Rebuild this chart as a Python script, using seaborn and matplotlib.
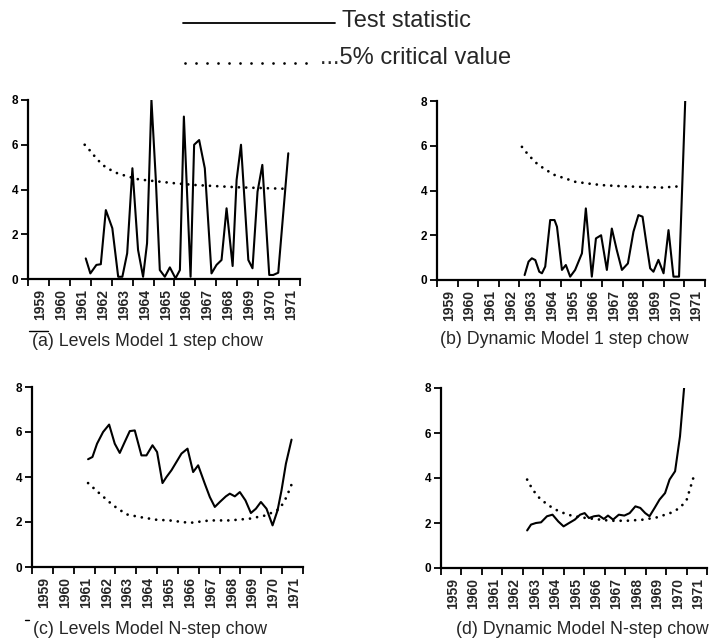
import matplotlib
matplotlib.use("Agg")
import matplotlib.pyplot as plt
from matplotlib.lines import Line2D
import seaborn as sns
import pandas as pd

# ---------------- data ----------------
# (a) Levels Model 1 step chow
a_stat_year = [1960.76, 1960.98, 1961.27, 1961.48, 1961.72, 1962.03, 1962.31, 1962.51, 1962.74, 1962.99,
               1963.26, 1963.50, 1963.69, 1963.90, 1964.11, 1964.30, 1964.54, 1964.78, 1965.05, 1965.26,
               1965.45, 1965.77, 1965.94, 1966.18, 1966.45, 1966.77, 1967.01, 1967.25, 1967.49, 1967.78,
               1967.97, 1968.18, 1968.53, 1968.73, 1968.97, 1969.20, 1969.53, 1969.72, 1969.96, 1970.44]
a_stat_val = [0.92, 0.25, 0.63, 0.66, 3.08, 2.27, 0.10, 0.10, 1.15, 4.95,
              1.30, 0.10, 1.60, 8.00, 4.43, 0.40, 0.10, 0.52, 0.03, 0.40,
              7.26, 0.10, 6.00, 6.21, 4.95, 0.25, 0.63, 0.85, 3.16, 0.58,
              4.43, 6.00, 0.85, 0.48, 3.90, 5.10, 0.18, 0.18, 0.28, 5.62]
a_crit_year = [1960.71, 1961.0, 1961.3, 1961.7, 1962.2, 1962.7, 1963.3, 1964.0, 1965.0, 1966.0,
               1967.0, 1968.0, 1969.0, 1970.0, 1970.44]
a_crit_val = [6.0, 5.7, 5.35, 5.0, 4.75, 4.6, 4.45, 4.38, 4.28, 4.2, 4.15, 4.1, 4.07, 4.04, 4.03]

# (b) Dynamic Model 1 step chow
b_stat_year = [1962.25, 1962.44, 1962.60, 1962.77, 1962.96, 1963.09, 1963.25, 1963.49, 1963.70, 1963.82,
               1964.06, 1964.25, 1964.46, 1964.70, 1965.03, 1965.22, 1965.51, 1965.71, 1965.96, 1966.24,
               1966.48, 1966.72, 1966.97, 1967.26, 1967.53, 1967.77, 1967.97, 1968.18, 1968.34, 1968.50,
               1968.74, 1968.99, 1969.23, 1969.47, 1969.74, 1970.04]
b_stat_val = [0.22, 0.82, 0.97, 0.89, 0.37, 0.30, 0.60, 2.68, 2.68, 2.38,
              0.45, 0.67, 0.15, 0.45, 1.19, 3.20, 0.15, 1.86, 2.00, 0.45,
              2.30, 1.34, 0.45, 0.74, 2.16, 2.90, 2.83, 1.49, 0.52, 0.37,
              0.90, 0.30, 2.23, 0.15, 0.15, 8.00]
b_crit_year = [1962.12, 1962.44, 1962.85, 1963.25, 1963.73, 1964.22, 1964.70, 1965.35, 1966.0, 1966.97,
               1967.94, 1968.9, 1969.8]
b_crit_val = [5.95, 5.58, 5.2, 4.94, 4.68, 4.54, 4.39, 4.31, 4.24, 4.19, 4.16, 4.13, 4.19]

# (c) Levels Model N-step chow
c_stat_year = [1960.69, 1960.90, 1961.12, 1961.41, 1961.70, 1961.97, 1962.21, 1962.45, 1962.69, 1962.93,
               1963.25, 1963.49, 1963.78, 1964.00, 1964.26, 1964.45, 1964.69, 1964.93, 1965.17, 1965.46,
               1965.73, 1965.97, 1966.29, 1966.53, 1966.77, 1967.01, 1967.30, 1967.49, 1967.73, 1967.97,
               1968.24, 1968.50, 1968.74, 1968.98, 1969.25, 1969.54, 1969.78, 1969.97, 1970.18, 1970.45]
c_stat_val = [4.79, 4.89, 5.48, 6.00, 6.33, 5.48, 5.07, 5.56, 6.04, 6.07,
              4.96, 4.96, 5.41, 5.11, 3.73, 4.00, 4.30, 4.67, 5.04, 5.26,
              4.22, 4.52, 3.70, 3.11, 2.67, 2.89, 3.14, 3.26, 3.14, 3.33,
              2.96, 2.40, 2.59, 2.89, 2.59, 1.85, 2.52, 3.41, 4.59, 5.66]
c_crit_year = [1960.69, 1961.25, 1961.89, 1962.53, 1963.17, 1963.97, 1964.60, 1965.57, 1966.53, 1967.49,
               1968.45, 1969.25, 1969.89, 1970.21, 1970.53]
c_crit_val = [3.73, 3.26, 2.74, 2.34, 2.22, 2.10, 2.07, 1.96, 2.07, 2.07, 2.15, 2.30, 2.59, 3.11, 3.85]

# (d) Dynamic Model N-step chow
d_stat_year = [1962.21, 1962.40, 1962.64, 1962.89, 1963.18, 1963.45, 1963.73, 1963.99, 1964.26, 1964.54,
               1964.80, 1965.02, 1965.23, 1965.48, 1965.72, 1965.96, 1966.16, 1966.41, 1966.69, 1966.96,
               1967.22, 1967.50, 1967.74, 1967.98, 1968.19, 1968.44, 1968.68, 1968.95, 1969.17, 1969.44,
               1969.68, 1969.88]
d_stat_val = [1.67, 1.93, 2.00, 2.03, 2.30, 2.37, 2.07, 1.85, 2.00, 2.15,
              2.37, 2.44, 2.22, 2.30, 2.33, 2.18, 2.33, 2.15, 2.37, 2.33,
              2.44, 2.74, 2.67, 2.44, 2.30, 2.67, 3.04, 3.33, 3.93, 4.30,
              5.85, 8.00]
d_crit_year = [1962.21, 1962.48, 1962.81, 1963.21, 1963.61, 1964.18, 1964.83, 1965.48, 1966.28, 1967.09,
               1967.90, 1968.55, 1969.20, 1969.68, 1970.01, 1970.33]
d_crit_val = [3.93, 3.48, 3.11, 2.81, 2.59, 2.37, 2.25, 2.18, 2.10, 2.10, 2.15, 2.25, 2.44, 2.67, 3.04, 4.00]

tick_years = list(range(1958, 1972))
label_years = list(range(1959, 1972))
tick_labels = [str(y) for y in label_years]
y_ticks = [0, 2, 4, 6, 8]

captions = ["(a) Levels Model 1 step chow", "(b) Dynamic Model 1 step chow",
            "(c) Levels Model N-step chow", "(d) Dynamic Model N-step chow"]
legend_labels = ["Test statistic", "...5% critical value"]

# ---------------- figure ----------------
sns.set_style("ticks")
plt.rcParams['font.family'] = ['Liberation Sans', 'DejaVu Sans']

W, H = 709, 643
fig = plt.figure(figsize=(W / 100, H / 100), dpi=100)

def rect(x0, x1, ytop, ybot):
    return [x0 / W, (H - ybot) / H, (x1 - x0) / W, (ybot - ytop) / H]

panels = [
    (rect(28, 300, 100, 279), a_stat_year, a_stat_val, a_crit_year, a_crit_val, (32, 341)),
    (rect(437, 705, 101, 280), b_stat_year, b_stat_val, b_crit_year, b_crit_val, (440, 340)),
    (rect(32, 303, 387, 567), c_stat_year, c_stat_val, c_crit_year, c_crit_val, (33, 630)),
    (rect(441, 707, 388, 568), d_stat_year, d_stat_val, d_crit_year, d_crit_val, (456, 630)),
]

for (r, sx, sv, cx, cv, cap_pos), cap in zip(panels, captions):
    ax = fig.add_axes(r)
    df_s = pd.DataFrame({"year": sx, "value": sv})
    df_c = pd.DataFrame({"year": cx, "value": cv})
    sns.lineplot(data=df_c, x="year", y="value", ax=ax, color="black", lw=2.0,
                 linestyle=(0, (0.01, 2.6)), dash_capstyle="round")
    sns.lineplot(data=df_s, x="year", y="value", ax=ax, color="black", lw=1.5)
    ax.set_xlim(1958, 1971)
    ax.set_ylim(0, 8)
    ax.set_xticks(tick_years)
    ax.set_xticklabels([""] * len(tick_years))
    ax.set_xticks([y - 0.42 for y in label_years], minor=True)
    ax.set_xticklabels(tick_labels, minor=True, rotation=90, fontsize=10, fontweight="bold")
    ax.tick_params(axis="x", which="minor", length=0, pad=7)
    ax.set_yticks(y_ticks)
    ax.set_yticklabels([str(v) for v in y_ticks], fontsize=8.5, fontweight="bold")
    ax.tick_params(axis="both", which="major", direction="out", length=5, width=1.3,
                   pad=2, colors="black")
    ax.set_xlabel("")
    ax.set_ylabel("")
    for s in ["top", "right"]:
        ax.spines[s].set_visible(False)
    for s in ["left", "bottom"]:
        ax.spines[s].set_linewidth(1.6)
        ax.spines[s].set_color("black")
    ax.patch.set_alpha(0)
    fig.text(cap_pos[0] / W, 1 - cap_pos[1] / H, cap, fontsize=12.8, ha="left", va="center")

# small scan marks near captions (a) and (c)
fig.add_artist(Line2D([29 / W, 48 / W], [1 - 331 / H, 1 - 331 / H], color="black", lw=1.0))
fig.add_artist(Line2D([25 / W, 29 / W], [1 - 620 / H, 1 - 620 / H], color="black", lw=1.0))

# ---------------- legend ----------------
fig.add_artist(Line2D([183 / W, 335 / W], [1 - 22.5 / H, 1 - 22.5 / H], color="black", lw=1.3))
fig.text(342 / W, 1 - 21 / H, legend_labels[0], fontsize=17, ha="left", va="center")
fig.add_artist(Line2D([185 / W, 316 / W], [1 - 63 / H, 1 - 63 / H], color="black", lw=2.0,
                      linestyle=(0, (0.01, 3.95)), dash_capstyle="round"))
fig.text(320 / W, 1 - 58 / H, legend_labels[1], fontsize=17, ha="left", va="center")

fig.savefig("out.png", dpi=100)
